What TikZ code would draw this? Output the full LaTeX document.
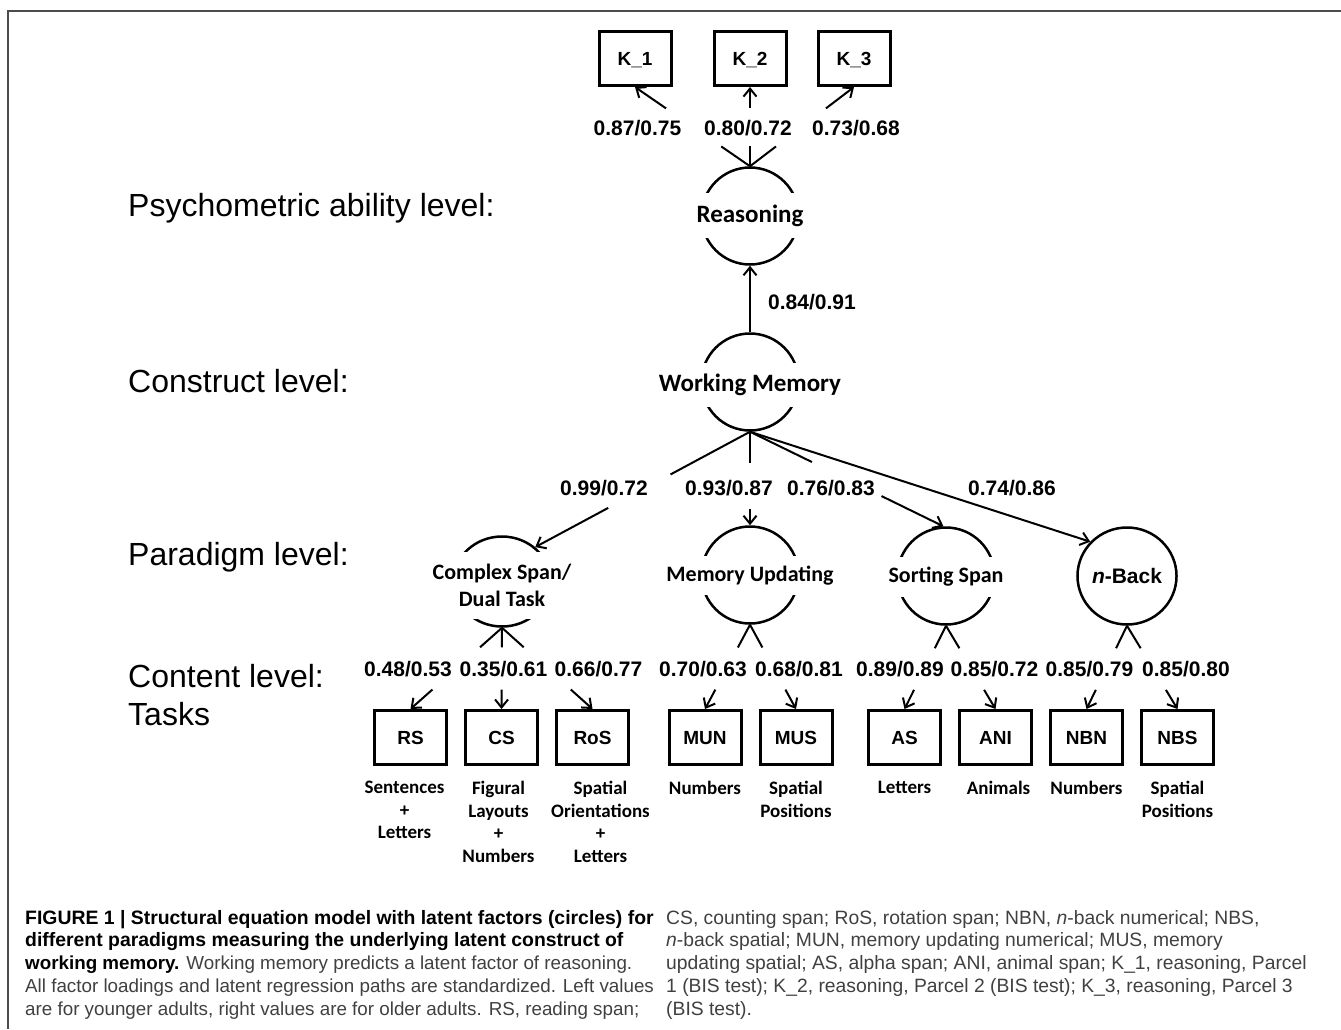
\documentclass[tikz,border=0pt]{standalone}
\usepackage{fontspec}
\setmainfont{Liberation Sans}
\newfontfamily\calibri{Carlito}
\usetikzlibrary{arrows.meta,positioning,calc,shapes.geometric}

\tikzstyle{loading} = [line width=2pt, -{Straight Barb[length=8pt,width=13pt]}]
\tikzstyle{obsBox} = [shape=rectangle, draw, line width=3pt, minimum width=72pt, minimum height=54pt, text height=13.7pt, text depth=0pt, font=\bfseries\fontsize{19}{22}\selectfont]
\tikzstyle{latent} = [shape=ellipse, draw, line width=2.5pt, minimum width=97pt, minimum height=97pt, inner sep=0pt, font=\bfseries\fontsize{21}{25}\selectfont]
\tikzstyle{latentLabel} = [fill=white, inner xsep=3pt, inner ysep=0pt, minimum height=44pt, align=center, font=\calibri\bfseries\fontsize{25}{27}\selectfont]
\tikzstyle{paraLabel} = [latentLabel, font=\calibri\bfseries\fontsize{22}{27}\selectfont]
\tikzstyle{coef} = [inner sep=1pt, font=\bfseries\fontsize{21}{25}\selectfont]
\tikzstyle{levelText} = [anchor=base west, inner sep=0pt, font=\fontsize{32}{38}\selectfont]
\tikzstyle{taskText} = [align=center, inner sep=0pt, font=\calibri\bfseries\fontsize{19}{22.5}\selectfont]
\tikzstyle{capText} = [anchor=north west, align=left, inner sep=0pt, text=black!75, font=\fontsize{18.8}{22.7}\selectfont]
\tikzstyle{figFrame} = [draw=black!70, line width=2pt]

\begin{document}
\begin{tikzpicture}[x=1pt, y=-1pt]
	\useasboundingbox (0,0) rectangle (1341,1029);
	\draw[figFrame] (8,1029) -- (8,11) -- (1341,11);

	% levels
	\node[levelText] (lvPsy) at (128,216) {Psychometric ability level:};
	\node[levelText] (lvCon) at (128,392) {Construct level:};
	\node[levelText] (lvPar) at (128,565) {Paradigm level:};
	\node[levelText] (lvCnt) at (128,687) {Content level:};
	\node[levelText] (lvTsk) at (128,725) {Tasks};

	% reasoning parcels
	\node[obsBox] (k1) at (635,58.5) {K\_1};
	\node[obsBox, right=40pt of k1] (k2) {K\_2};
	\node[obsBox, right=29pt of k2] (k3) {K\_3};

	% latent factors
	\node[latent] (reasoning) at (750,216) {};
	\node[latentLabel, minimum height=45pt] (reasTxt) at (750,215.5) {Reasoning};
	\node[latent] (wm) at (750,382) {};
	\node[latentLabel] (wmTxt) at (750,385) {Working Memory};
	\node[latent, minimum height=90pt] (cspan) at (502,581.5) {};
	\node[paraLabel, minimum height=67pt] (cspanTxt) at (502,585.5) {Complex Span/\\Dual Task};
	\node[latent] (mupd) at (750,575) {};
	\node[paraLabel, minimum height=39pt] (mupdTxt) at (750,575.5) {Memory Updating};
	\node[latent] (sspan) at (946,576) {};
	\node[paraLabel, minimum height=40pt] (sspanTxt) at (946,577) {Sorting Span};
	\node[latent] (nback) at (1127,576) {\textit{n}-Back};

	% tasks
	\node[obsBox] (rs) at (410.5,737.5) {RS};
	\node[obsBox, right=16pt of rs] (cs) {CS};
	\node[obsBox, right=16pt of cs] (ros) {RoS};
	\node[obsBox] (mun) at (705,737.5) {MUN};
	\node[obsBox, right=16pt of mun] (mus) {MUS};
	\node[obsBox] (as) at (904.5,737.5) {AS};
	\node[obsBox, right=16pt of as] (ani) {ANI};
	\node[obsBox, right=16pt of ani] (nbn) {NBN};
	\node[obsBox, right=16pt of nbn] (nbs) {NBS};

	\node[taskText, below=15pt of rs, xshift=-6pt] (rsTxt) {Sentences\\+\\Letters};
	\node[taskText, below=15pt of cs, xshift=-3pt] (csTxt) {Figural\\Layouts\\+\\Numbers};
	\node[taskText, below=15pt of ros, xshift=8pt] (rosTxt) {Spatial\\Orientations\\+\\Letters};
	\node[taskText, below=15pt of mun] (munTxt) {Numbers};
	\node[taskText, below=15pt of mus] (musTxt) {Spatial\\Positions};
	\node[taskText, below=15pt of as] (asTxt) {Letters};
	\node[taskText, below=15pt of ani, xshift=3pt] (aniTxt) {Animals};
	\node[taskText, below=15pt of nbn] (nbnTxt) {Numbers};
	\node[taskText, below=15pt of nbs] (nbsTxt) {Spatial\\Positions};

	% loadings
	\node[coef] (cK1) at (637.5,128) {0.87/0.75};
	\node[coef] (cK2) at (748,128) {0.80/0.72};
	\node[coef] (cK3) at (856,128) {0.73/0.68};
	\node[coef] (cWm) at (812,302) {0.84/0.91};
	\node[coef] (cCsp) at (604,488) {0.99/0.72};
	\node[coef] (cMup) at (729,488) {0.93/0.87};
	\node[coef] (cSsp) at (831,488) {0.76/0.83};
	\node[coef] (cNb) at (1012,488) {0.74/0.86};
	\node[coef] (cRs) at (408,669) {0.48/0.53};
	\node[coef] (cCs) at (503.5,669) {0.35/0.61};
	\node[coef] (cRos) at (598.5,669) {0.66/0.77};
	\node[coef] (cMun) at (703,669) {0.70/0.63};
	\node[coef] (cMus) at (799,669) {0.68/0.81};
	\node[coef] (cAs) at (900,669) {0.89/0.89};
	\node[coef] (cAni) at (994.5,669) {0.85/0.72};
	\node[coef] (cNbn) at (1089.5,669) {0.85/0.79};
	\node[coef] (cNbs) at (1186,669) {0.85/0.80};

	% paths
	\foreach \k in {k1,k2,k3}
		\draw[loading] (reasoning.north) -- ($(reasoning.north)!.25!(\k.south)$)
			($(reasoning.north)!.73!(\k.south)$) -- (\k.south);
	\draw[loading] (wm.north) -- (reasoning.south);
	\draw[loading] (wm.south) -- ($(wm.south)!.37!(cspan.46)$)
		($(wm.south)!.66!(cspan.46)$) -- (cspan.46);
	\draw[loading] (wm.south) -- ($(wm.south)!.33!(mupd.north)$)
		($(wm.south)!.83!(mupd.north)$) -- (mupd.north);
	\draw[loading] (wm.south) -- ($(wm.south)!.32!(sspan.93)$)
		($(wm.south)!.68!(sspan.93)$) -- (sspan.93);
	\draw[loading] (wm.south) -- (nback.137);
	\foreach \b in {rs,cs,ros}
		\draw[loading] (cspan.south) -- ($(cspan.south)!.24!(\b.north)$)
			($(cspan.south)!.76!(\b.north)$) -- (\b.north);
	\foreach \p/\b in {mupd/mun,mupd/mus,sspan/as,sspan/ani,nback/nbn,nback/nbs}
		\draw[loading] (\p.south) -- ($(\p.south)!.27!(\b.north)$)
			($(\p.south)!.77!(\b.north)$) -- (\b.north);

	% caption
	\node[capText] (capLeft) at (25,910) {%
		{\color{black}\bfseries\fontsize{19.4}{22.7}\selectfont FIGURE 1 | Structural equation model with latent factors (circles) for}\\
		{\color{black}\bfseries\fontsize{19.4}{22.7}\selectfont different paradigms measuring the underlying latent construct of}\\
		{\color{black}\bfseries working memory.} Working memory predicts a latent factor of reasoning.\\
		All factor loadings and latent regression paths are standardized. Left values\\
		are for younger adults, right values are for older adults. RS, reading span;};
	\node[capText, font=\fontsize{19.3}{22.7}\selectfont] (capRight) at (666,910) {%
		CS, counting span; RoS, rotation span; NBN, \textit{n}-back numerical; NBS,\\
		\textit{n}-back spatial; MUN, memory updating numerical; MUS, memory\\
		updating spatial; AS, alpha span; ANI, animal span; K\_1, reasoning, Parcel\\
		1 (BIS test); K\_2, reasoning, Parcel 2 (BIS test); K\_3, reasoning, Parcel 3\\
		(BIS test).};
\end{tikzpicture}
\end{document}
